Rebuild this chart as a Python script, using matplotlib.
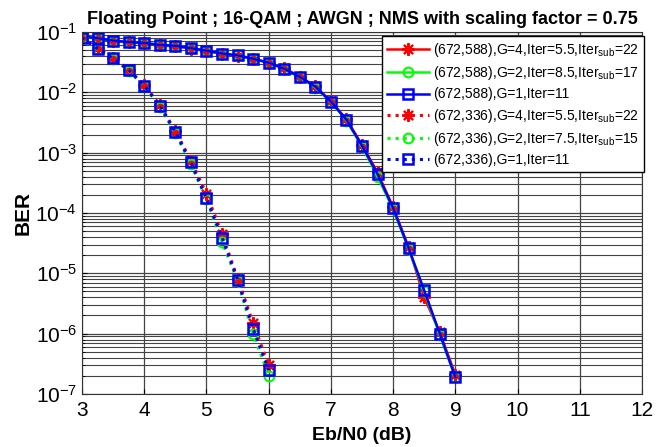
import matplotlib
matplotlib.use("Agg")
import matplotlib.pyplot as plt
import numpy as np

plt.rcParams.update({
    'font.family': 'Liberation Sans',
    'mathtext.fontset': 'custom',
    'mathtext.rm': 'Liberation Sans',
    'mathtext.default': 'regular',
})

# (672,588) code, Eb/N0 from 3 to 9 dB
ebn0_588 = [3, 3.25, 3.5, 3.75, 4, 4.25, 4.5, 4.75, 5, 5.25, 5.5, 5.75, 6,
            6.25, 6.5, 6.75, 7, 7.25, 7.5, 7.75, 8, 8.25, 8.5, 8.75, 9]
ber_588_g4 = [0.083, 0.078, 0.071, 0.067, 0.065, 0.060, 0.058, 0.053, 0.048, 0.044,
              0.040, 0.036, 0.031, 0.025, 0.0183, 0.0126, 0.0071, 0.0036, 0.00135,
              0.00047, 0.000125, 2.7e-5, 4.0e-6, 1.05e-6, 2.1e-7]
ber_588_g2 = [0.084, 0.079, 0.072, 0.068, 0.066, 0.061, 0.059, 0.054, 0.049, 0.044,
              0.041, 0.036, 0.031, 0.0244, 0.0178, 0.0120, 0.0069, 0.0034, 0.00125,
              0.00040, 0.000115, 2.5e-5, 5.0e-6, 0.95e-6, 1.9e-7]
ber_588_g1 = [0.084, 0.079, 0.072, 0.068, 0.066, 0.061, 0.059, 0.054, 0.049, 0.044,
              0.041, 0.036, 0.031, 0.0246, 0.0180, 0.0124, 0.0070, 0.0035, 0.0013,
              0.00044, 0.00012, 2.6e-5, 5.2e-6, 1.0e-6, 1.9e-7]

# (672,336) code, Eb/N0 from 3 to 6 dB
ebn0_336 = [3, 3.25, 3.5, 3.75, 4, 4.25, 4.5, 4.75, 5, 5.25, 5.5, 5.75, 6]
ber_336_g4 = [0.081, 0.054, 0.037, 0.0238, 0.0132, 0.0062, 0.0023, 0.00074,
              0.00021, 4.5e-5, 8.2e-6, 1.5e-6, 3.0e-7]
ber_336_g2 = [0.079, 0.052, 0.036, 0.0228, 0.0125, 0.0058, 0.0021, 0.00064,
              0.00017, 3.3e-5, 7.6e-6, 1.0e-6, 2.0e-7]
ber_336_g1 = [0.080, 0.053, 0.0366, 0.0234, 0.0129, 0.0060, 0.0022, 0.00069,
              0.000175, 3.9e-5, 7.9e-6, 1.2e-6, 2.5e-7]

labels = ["(672,588),G=4,Iter=5.5,Iter$_{sub}$=22",
          "(672,588),G=2,Iter=8.5,Iter$_{sub}$=17",
          "(672,588),G=1,Iter=11",
          "(672,336),G=4,Iter=5.5,Iter$_{sub}$=22",
          "(672,336),G=2,Iter=7.5,Iter$_{sub}$=15",
          "(672,336),G=1,Iter=11"]

fig = plt.figure(figsize=(6.7, 4.47), dpi=100)
ax = fig.add_axes([0.1224, 0.1186, 0.8358, 0.8098])

star = (8, 2, 0)
ax.plot(ebn0_588, ber_588_g4, '-', color='red', marker=star, ms=9, mew=1.5, lw=1.8, label=labels[0])
ax.plot(ebn0_588, ber_588_g2, '-', color='#00ff00', marker='o', ms=7, mew=1.5, mfc='none', lw=1.8, label=labels[1])
ax.plot(ebn0_588, ber_588_g1, '-', color='blue', marker='s', ms=7, mew=1.8, mfc='none', lw=1.8, label=labels[2])
ax.plot(ebn0_336, ber_336_g4, ':', color='red', marker=star, ms=9, mew=1.5, lw=2.2, label=labels[3])
ax.plot(ebn0_336, ber_336_g2, ':', color='#00ff00', marker='o', ms=7, mew=1.5, mfc='none', lw=2.2, label=labels[4])
ax.plot(ebn0_336, ber_336_g1, ':', color='blue', marker='s', ms=7, mew=1.8, mfc='none', lw=2.2, label=labels[5])

ax.set_yscale('log')
ax.set_xlim(3, 12)
ax.set_ylim(1e-7, 1e-1)
ax.set_xticks(range(3, 13))
ax.yaxis.set_minor_locator(matplotlib.ticker.LogLocator(base=10, subs=np.arange(2, 10)))
ax.yaxis.set_minor_formatter(matplotlib.ticker.NullFormatter())
ax.tick_params(which='both', direction='in', labelsize=15)
ax.tick_params(axis='x', pad=5)
ax.grid(True, which='major', color='#444444', lw=0.9)
ax.grid(True, which='minor', axis='y', color='#444444', lw=0.8)
ax.set_axisbelow(True)
for s in ax.spines.values():
    s.set_color('#333333')

ax.set_title("Floating Point ; 16-QAM ; AWGN ; NMS with scaling factor = 0.75",
             fontsize=13, fontweight='bold', pad=6)
ax.set_xlabel("Eb/N0 (dB)", fontsize=14, fontweight='bold', labelpad=5)
ax.set_ylabel("BER", fontsize=15, fontweight='bold', labelpad=2)

leg = ax.legend(loc='upper right', bbox_to_anchor=(644 / 670, 1 - 36 / 447),
                bbox_transform=fig.transFigure, borderaxespad=0, fontsize=10,
                handlelength=3.0, labelspacing=0.38, fancybox=False, framealpha=1,
                edgecolor='black', borderpad=0.35, handletextpad=0.3)
leg.get_frame().set_linewidth(1.0)

fig.savefig('out.png', dpi=100)
